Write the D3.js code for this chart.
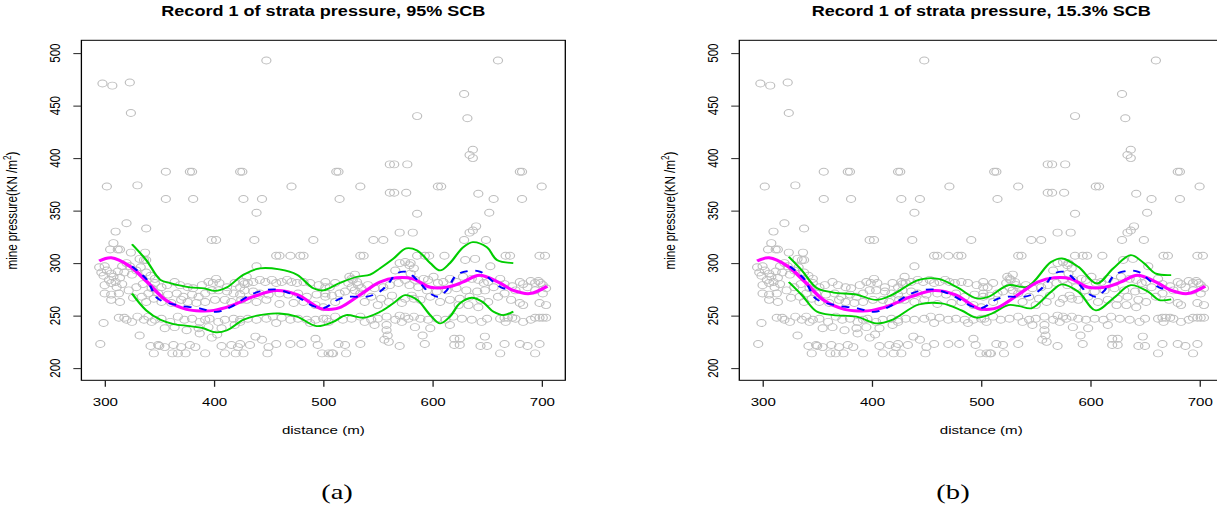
<!DOCTYPE html>
<html><head><meta charset="utf-8">
<script src="https://cdn.jsdelivr.net/npm/d3@7"></script>
<style>body{margin:0;background:#fff}svg{display:block}</style>
</head><body>
<svg id="c" width="1217" height="510"></svg>
<script>
// observations: [distance (m), mine pressure]
const obs = [
[298,471],[307,469],[323,472],[324,443],[302,373],[330,374],[356,387],[356,361],[378,387],[380,387],[381,361],[424,387],[426,387],[427,361],[444,361],[439,348],[448,493],[471,373],[512,387],[514,387],[515,361],[534,373],[561,394],[565,394],[577,394],[561,367],[565,367],[576,367],[586,440],[586,347],[605,373],[608,373],[629,461],[632,438],[637,408],[634,403],[637,400],[642,366],[660,493],[656,361],[652,348],[680,387],[682,387],[682,361],[700,373],
[640,335],[637,331],[634,329],[629,322],[649,322],[570,329],[582,329],[546,322],[555,322],[491,322],[437,322],[398,322],[402,322],[320,338],[338,333],[310,330],[308,319],[305,313],[312,313],[314,313],[324,310],[337,310],
[457,307],[460,307],[470,307],[479,307],[482,307],[534,307],[537,307],[586,307],[593,307],[597,307],[611,307],[667,307],[671,307],[698,307],[703,307],
[295,296],[297,291],[299,288],[302,293],[300,297],[304,284],[306,290],[308,287],[310,282],[312,292],[314,286],[316,297],[318,291],[320,300],[323,297],[325,289],[329,293],[333,296],[338,291],[342,288],[346,285],[336,303],[332,304],[338,303],
[300,279],[306,281],[311,277],[316,280],[300,271],[306,270],[313,271],[306,265],[314,263],[322,274],[329,277],[326,267],[334,268],[340,271],[338,263],[345,266],[343,276],[335,280],
[299,243],[313,248],[318,248],[320,246],[330,249],[325,244],[336,246],[343,244],[340,249],[332,231],[296,223],[342,221],[350,221],
[346,281],[352,277],[357,279],[364,282],[369,279],[376,277],[381,276],[389,279],[395,282],[399,281],[405,281],[412,277],[419,281],[424,277],
[349,271],[358,270],[366,271],[372,268],[380,270],[386,268],[392,271],[398,274],[404,274],[412,273],[418,271],[424,270],
[352,263],[361,262],[370,265],[376,263],[384,262],[392,263],[401,265],[410,265],[416,263],[425,265],
[346,246],[352,247],[360,244],[367,249],[373,246],[380,247],[387,244],[392,246],[396,247],[404,244],[410,246],[418,247],[424,244],
[355,238],[364,239],[375,236],[386,238],[395,239],[407,238],[419,241],[387,233],[398,229],[403,232],
[349,222],[355,220],[363,222],[370,220],[378,222],[383,220],[407,221],[416,222],[422,220],
[345,214],[362,214],[367,214],[374,214],[392,214],[410,214],[420,214],[402,285],[430,287],[428,280],
[439,297],
[427,282],[431,281],[436,282],[442,284],[447,282],[453,284],[457,281],[462,282],[467,284],[471,282],[476,281],[482,282],[488,281],[496,279],[502,277],
[428,274],[436,273],[442,271],[450,270],[460,271],[468,270],[477,271],[485,268],[494,270],[502,268],
[430,265],[439,263],[448,265],[460,261],[473,262],[482,263],[493,260],[500,258],
[424,246],[431,247],[439,246],[448,247],[454,249],[462,248],[470,246],[477,247],[485,246],[493,246],[500,247],[505,244],[457,243],[488,243],
[438,230],[444,227],[457,223],[470,223],[480,223],[493,228],[495,222],[424,223],[433,222],[450,220],
[427,214],[449,214],[499,214],[508,214],
[570,300],[575,301],[579,298],[566,293],
[524,287],[526,285],[527,284],[529,289],[531,282],[523,281],[526,277],[529,274],[532,279],[535,276],[520,273],[534,271],
[502,282],[506,277],[511,281],[515,271],[508,269],[541,279],[547,276],[555,277],[561,279],[569,281],[575,284],[579,279],[544,268],[553,266],[563,269],[575,266],[502,271],[511,263],[538,263],[550,260],[560,263],[572,262],[581,269],
[503,247],[511,249],[518,246],[526,247],[534,249],[538,244],[544,246],[550,247],[558,249],[566,246],[572,244],[578,247],
[547,241],[558,241],[570,250],[575,249],[558,236],[559,231],[556,227],
[514,223],[520,222],[505,214],[509,214],[534,223],[560,225],[570,221],[521,214],
[630,303],[639,304],
[580,300],[583,295],[580,290],[584,284],[592,285],[596,284],[601,287],[605,281],[610,282],[616,285],[622,282],[628,287],[636,285],[642,284],[647,281],[651,282],
[587,277],[595,274],[604,273],[613,274],[622,276],[631,274],[641,273],[648,274],
[583,266],[589,265],[598,268],[607,263],[616,265],[625,266],[634,268],[644,265],[651,263],
[624,260],[633,260],[642,258],
[583,249],[589,247],[596,246],[604,247],[612,246],[619,249],[627,247],[636,246],[645,244],[650,247],[584,239],[598,238],[616,241],
[591,231],[593,223],[620,228],[625,228],[620,222],[625,222],[644,221],[650,221],[648,230],
[653,297],[662,285],[666,280],[673,278],[680,282],[683,280],[687,277],[690,283],[694,281],[697,283],[699,281],[701,279],[704,276],[694,274],[701,271],[666,271],[676,274],[656,277],[660,268],[672,265],[680,262],[683,260],[698,262],[704,260],
[662,247],[666,248],[669,248],[673,248],[676,247],[683,244],[690,246],[694,248],[698,248],[701,248],[704,248],[667,244],
[666,223],[680,223],[698,223],[662,214],[687,221],[694,214]
];

// fitted curve (magenta)
const fitCurve = [[295,302],[306,305],[323,297],[338,283],[357,264],[375,256],[388,254.5],[400,255],[415,259],[436,268],[457,274],[476,270],[497,257],[508,256],[516,258],[534,270],[552,282],[567,286],[582,285],[598,277],[613,277],[628,282],[643,288.5],[660,282],[674,274],[689,271],[705,278]];
// estimate (blue dashed)
const meanCurve = [[325,297],[338,285],[349,266],[366,260],[387,257],[402,253.5],[415,258],[436,271],[457,275],[476,268],[491,259],[500,257],[515,266],[525,268],[540,268],[552,273],[560,281],[567,290],[576,291.7],[586,284],[598,271],[605,268],[613,274],[622,288.6],[634,292.7],[644,291.7],[656,282],[665,276],[674,277]];
// 95% band (green)
const band95Upper = [[325,318],[338,303],[351,284],[360,281],[378,277],[391,276],[401,273.6],[412,277],[427,289],[442,295],[460,294],[476,289],[491,276],[500,274],[515,281],[531,287],[543,289],[552,295],[564,304],[576,314],[586,312],[598,300],[607,293],[616,300],[628,315],[637,320],[650,315],[659,303],[674,300]];
const band95Lower = [[325,271],[338,255],[351,246],[363,242],[378,240],[390,238],[402,234],[412,236],[427,246],[442,250.5],[460,252],[476,249],[494,240],[509,244],[521,250.5],[537,248],[552,253.6],[564,261.6],[575,269.5],[586,265],[598,250.5],[607,242.6],[616,249],[625,261.6],[636,267],[646,263],[656,253.6],[665,250.5],[674,254]];
// 15.3% band (green)
const band153Upper = [[324,306],[336,293],[350,276],[365,272],[386,270],[404,265],[418,269.5],[443,284],[461,285],[478,277],[496,266.4],[507,268],[525,279],[542,277.4],[564,301],[574,304.4],[589,296.5],[606,280.6],[621,295],[637,307.6],[649,300],[660,290],[674,288.6]];
const band153Lower = [[324,282],[336,269.5],[350,253.6],[365,250.5],[386,249],[404,242.6],[418,245.7],[443,260.6],[464,261.6],[482,255],[496,248],[510,252],[525,260],[535,259],[546,257],[564,272.7],[574,279.7],[589,272.7],[605,255],[621,266.4],[637,279],[653,272.7],[663,264.8],[674,265.4]];

const xTicks = [300,400,500,600,700];
const yTicks = [200,250,300,350,400,450,500];
const titles = ["Record 1 of strata pressure, 95% SCB","Record 1 of strata pressure, 15.3% SCB"];
const captions = ["(a)","(b)"];
const bands = [[band95Upper,band95Lower],[band153Upper,band153Lower]];

const S = 1.3;               // horizontal stretch of the figure
const FONT = "'Liberation Sans', Arial, Helvetica, sans-serif";
const svg = d3.select("#c");
const root = svg.append("g").attr("transform", `scale(${S},1)`);
const offsets = [0, 657.9];
const capX = [337, 953];

titles.forEach((title, i) => {
  const off = offsets[i];
  const x = d3.scaleLinear().domain([278.7, 721.6]).range([(81.4+off)/S, (565.3+off)/S]);
  const y = d3.scaleLinear().domain([188.4, 512.2]).range([380.3, 40.3]);
  const g = root.append("g");
  const [x0, x1] = x.range();
  const cx = (x0 + x1) / 2;

  g.append("g").selectAll("circle").data(obs).join("circle")
    .attr("cx", d => x(d[0])).attr("cy", d => y(d[1])).attr("r", 3.5)
    .attr("fill", "none").attr("stroke", "#bebebe").attr("stroke-width", 0.9);

  const line = d3.line().x(d => x(d[0])).y(d => y(d[1])).curve(d3.curveCatmullRom.alpha(0.5));
  bands[i].forEach(b => g.append("path").datum(b).attr("d", line)
    .attr("fill", "none").attr("stroke", "#00cd00").attr("stroke-width", 1.8));
  g.append("path").datum(fitCurve).attr("d", line)
    .attr("fill", "none").attr("stroke", "#ff00ff").attr("stroke-width", 3);
  g.append("path").datum(meanCurve).attr("d", line)
    .attr("fill", "none").attr("stroke", "#0000ff").attr("stroke-width", 1.8).attr("stroke-dasharray", "6,6");

  g.append("rect").attr("x", x0).attr("y", 40.3).attr("width", x1 - x0).attr("height", 340)
    .attr("fill", "none").attr("stroke", "#000").attr("stroke-width", 1);

  const xa = g.append("g").attr("transform", "translate(0,380.3)")
    .call(d3.axisBottom(x).tickValues(xTicks).tickSize(6.5).tickFormat(d3.format("d")));
  xa.select(".domain").remove();
  xa.selectAll("line").attr("stroke", "#222");
  xa.selectAll("text").attr("y", 26.2).attr("dy", 0).attr("font-size", 11.6)
    .attr("font-family", FONT).attr("fill", "#000");

  const ya = g.append("g").attr("transform", `translate(${x0},0)`)
    .call(d3.axisLeft(y).tickValues(yTicks).tickSize(6.2).tickFormat(""));
  ya.select(".domain").remove();
  ya.selectAll("line").attr("stroke", "#222");
  const bx = (54.3 + off) / S + 4.2;
  g.append("g").selectAll("text").data(yTicks).join("text")
    .attr("transform", d => `translate(${bx},${y(d)}) rotate(-90)`)
    .attr("text-anchor", "middle").attr("font-size", 11.6).attr("font-family", FONT)
    .text(d => d);

  g.append("text").attr("x", cx).attr("y", 15.8).attr("text-anchor", "middle")
    .attr("font-size", 13.9).attr("font-weight", "bold").attr("font-family", FONT).text(title);
  g.append("text").attr("x", cx).attr("y", 434).attr("text-anchor", "middle")
    .attr("font-size", 11.6).attr("font-family", FONT).text("distance (m)");

  const yl = g.append("text")
    .attr("transform", `translate(${(13 + off) / S + 3},${y(350)}) rotate(-90)`)
    .attr("text-anchor", "middle").attr("font-size", 11.6).attr("font-family", FONT);
  yl.append("tspan").text("mine pressure(KN /m");
  yl.append("tspan").attr("font-size", 8).attr("dy", -4.5).text("2");
  yl.append("tspan").attr("dy", 4.5).text(")");

  g.append("text").attr("x", capX[i] / S).attr("y", 499).attr("text-anchor", "middle")
    .attr("font-size", 22).attr("font-family", "'Liberation Serif', 'DejaVu Serif', serif")
    .text(captions[i]);
});
</script>
</body></html>
